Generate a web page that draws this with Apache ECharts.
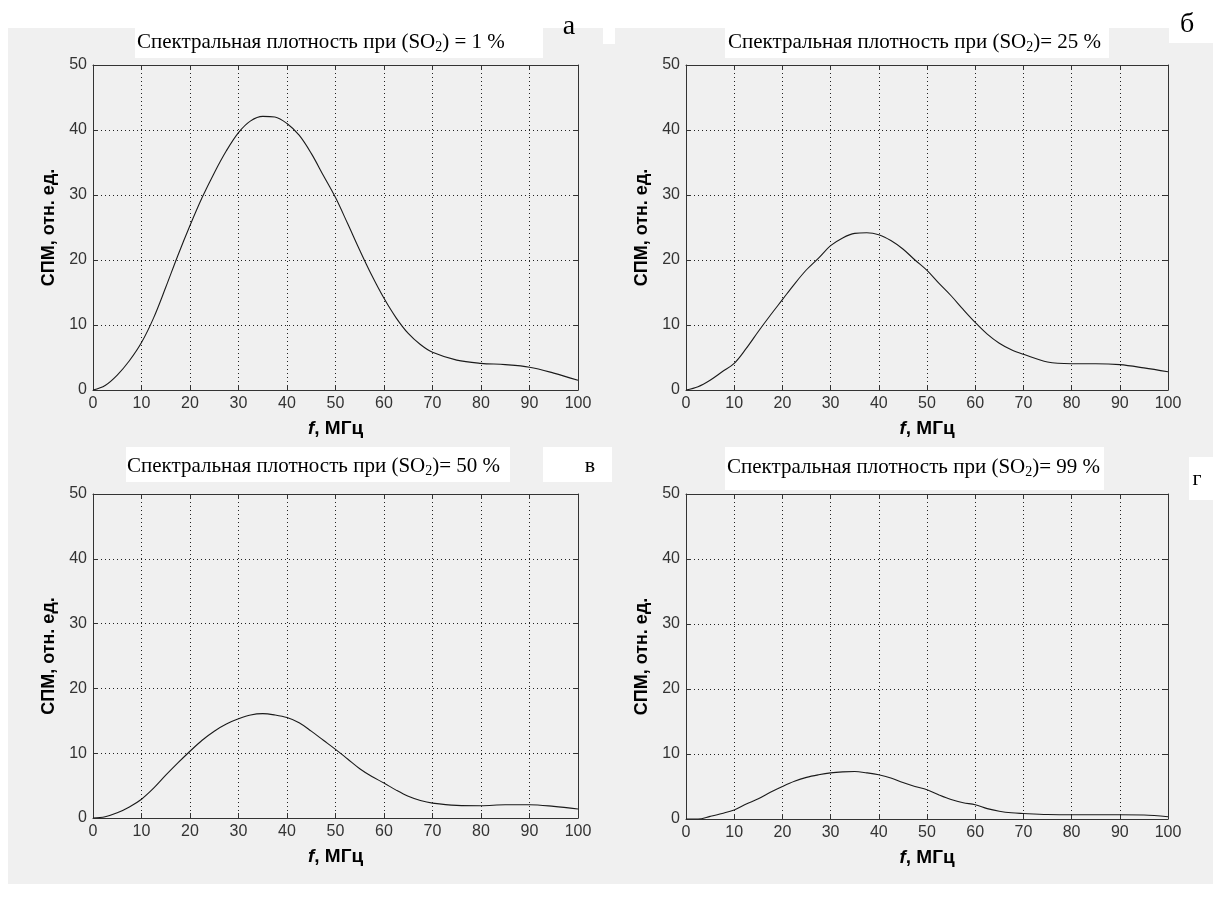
<!DOCTYPE html>
<html><head><meta charset="utf-8">
<script src="https://cdn.jsdelivr.net/npm/echarts@6/dist/echarts.min.js"></script>
<style>html,body{margin:0;padding:0;background:#fff}#c{width:1213px;height:900px}</style>
</head><body><div id="c"></div><script>
// Frequency grid (MHz)
const freq = [0,2.5,5,7.5,10,12.5,15,17.5,20,22.5,25,27.5,30,32.5,35,37.5,40,42.5,45,47.5,50,52.5,55,57.5,60,62.5,65,67.5,70,75,80,85,90,95,100];
// Spectral power density, rel. units
const spm1  = [0,0.7,2.3,4.5,7.3,11.1,15.8,20.7,25.3,29.6,33.4,36.8,39.6,41.4,42.1,42,41.0,39.2,36.4,33.0,29.6,25.6,21.5,17.6,14.1,11.1,8.7,7,5.8,4.6,4.1,3.9,3.5,2.6,1.5];
const spm25 = [0,0.5,1.5,2.8,4.1,6.4,9,11.5,13.9,16.3,18.5,20.3,22.2,23.4,24.1,24.2,23.9,23.0,21.7,20.0,18.4,16.4,14.5,12.4,10.4,8.6,7.2,6.2,5.5,4.3,4.05,4.05,3.9,3.4,2.8];
const spm50 = [0,0.2,0.8,1.7,2.9,4.6,6.6,8.5,10.3,12.0,13.4,14.5,15.3,15.9,16.1,15.9,15.5,14.7,13.4,12.0,10.6,9.1,7.6,6.4,5.4,4.3,3.35,2.7,2.3,1.95,1.9,2.05,2.05,1.8,1.4];
const spm99 = [0,0,0.4,0.85,1.4,2.3,3.1,4.1,5.0,5.8,6.4,6.8,7.1,7.25,7.3,7.1,6.8,6.3,5.6,5.0,4.5,3.7,3.0,2.5,2.2,1.6,1.2,0.95,0.85,0.7,0.65,0.65,0.65,0.62,0.35];
const titleTails = [') = 1 %', ')= 25 %', ')= 50 %', ')= 99 %'];
const panelLetters = ['а', 'б', 'в', 'г'];
const yName = 'СПМ, отн. ед.';
const X_MIN = 0, X_MAX = 100, X_STEP = 10;
const Y_MIN = 0, Y_MAX = 50, Y_STEP = 10;

const seriesValues = [spm1, spm25, spm50, spm99];

// layout
const grids = [
  {left: 93, top: 65, width: 485, height: 325},
  {left: 686, top: 65, width: 482, height: 325},
  {left: 93, top: 494, width: 485, height: 324},
  {left: 686, top: 494, width: 482, height: 325}
];
const titlePos = [[137, 42], [728, 42], [127, 466], [727, 467]];
const letterPos = [[569, 27, 28], [1187, 25, 28], [590, 466, 22], [1197, 479, 22]];
const whiteBoxes = [
  [135, 28, 408, 30], [603, 28, 12, 16], [725, 28, 384, 30], [1169, 28, 44, 15],
  [126, 447, 384, 35], [543, 447, 69, 35], [725, 447, 379, 43], [1189, 457, 24, 43]
];

const tickFont = '"Liberation Sans", Arial, sans-serif';
const serifFont = '"Liberation Serif", "Times New Roman", serif';
const frameColor = '#333';

const xAxes = [], yAxes = [], series = [];
grids.forEach((g, i) => {
  const common = {gridIndex: i, type: 'value', axisLine: {show: true, onZero: false, lineStyle: {color: frameColor, width: 1}},
    axisTick: {show: true, inside: true, length: 5, lineStyle: {color: frameColor}}};
  xAxes.push(Object.assign({}, common, {
    min: X_MIN, max: X_MAX, interval: X_STEP, position: 'bottom',
    axisLabel: {margin: 6, color: '#333', fontSize: 16, fontFamily: tickFont},
    splitLine: {show: true, lineStyle: {type: [1, 3], color: '#222', width: 1}},
    name: '{i|f}{b|, МГц}', nameLocation: 'middle', nameGap: 29,
    nameTextStyle: {color: '#000', rich: {
      i: {fontStyle: 'italic', fontWeight: 'bold', fontSize: 19, fontFamily: 'Liberation Sans', color: '#000'},
      b: {fontWeight: 'bold', fontSize: 19, fontFamily: 'Liberation Sans', color: '#000'}}}
  }));
  xAxes.push(Object.assign({}, common, {
    min: X_MIN, max: X_MAX, interval: X_STEP, position: 'top',
    axisLabel: {show: false}, splitLine: {show: false}
  }));
  yAxes.push(Object.assign({}, common, {
    min: Y_MIN, max: Y_MAX, interval: Y_STEP, position: 'left',
    axisLabel: {margin: 6, color: '#333', fontSize: 16, fontFamily: tickFont},
    splitLine: {show: true, lineStyle: {type: [1, 3], color: '#222', width: 1}},
    name: yName, nameLocation: 'middle', nameGap: 35,
    nameTextStyle: {fontWeight: 'bold', fontSize: 18, fontFamily: 'Liberation Sans', color: '#000'}
  }));
  yAxes.push(Object.assign({}, common, {
    min: Y_MIN, max: Y_MAX, interval: Y_STEP, position: 'right',
    axisLabel: {show: false}, splitLine: {show: false}
  }));
  series.push({
    type: 'line', xAxisIndex: i * 2, yAxisIndex: i * 2,
    data: freq.map((f, k) => [f, seriesValues[i][k]]),
    showSymbol: false, smooth: 0.35,
    lineStyle: {color: '#1a1a1a', width: 1.1}, z: 5
  });
});

const graphic = [{type: 'rect', z: -100, shape: {x: 8, y: 28, width: 1205, height: 856}, style: {fill: '#f0f0f0'}}];
whiteBoxes.forEach(b => graphic.push({type: 'rect', z: -50, shape: {x: b[0], y: b[1], width: b[2], height: b[3]}, style: {fill: '#ffffff'}}));
titlePos.forEach((p, i) => graphic.push({
  type: 'text', z: 100, x: p[0], y: p[1],
  style: {text: '{a|Спектральная плотность при (SO}{s|2}{a|' + titleTails[i] + '}', verticalAlign: 'middle', align: 'left',
    rich: {a: {fontSize: 21, fontFamily: serifFont, fill: '#000', lineHeight: 24, verticalAlign: 'middle'},
           s: {fontSize: 14, fontFamily: serifFont, fill: '#000', lineHeight: 24, verticalAlign: 'bottom'}}}
}));
letterPos.forEach((p, i) => graphic.push({
  type: 'text', z: 100, x: p[0], y: p[1],
  style: {text: panelLetters[i], fontSize: p[2], fontFamily: serifFont, fill: '#000', align: 'center', verticalAlign: 'middle'}
}));

const chart = echarts.init(document.getElementById('c'));
chart.setOption({
  animation: false,
  backgroundColor: '#ffffff',
  grid: grids.map(g => Object.assign({containLabel: false}, g)),
  xAxis: xAxes, yAxis: yAxes, series: series, graphic: graphic
});
</script></body></html>
